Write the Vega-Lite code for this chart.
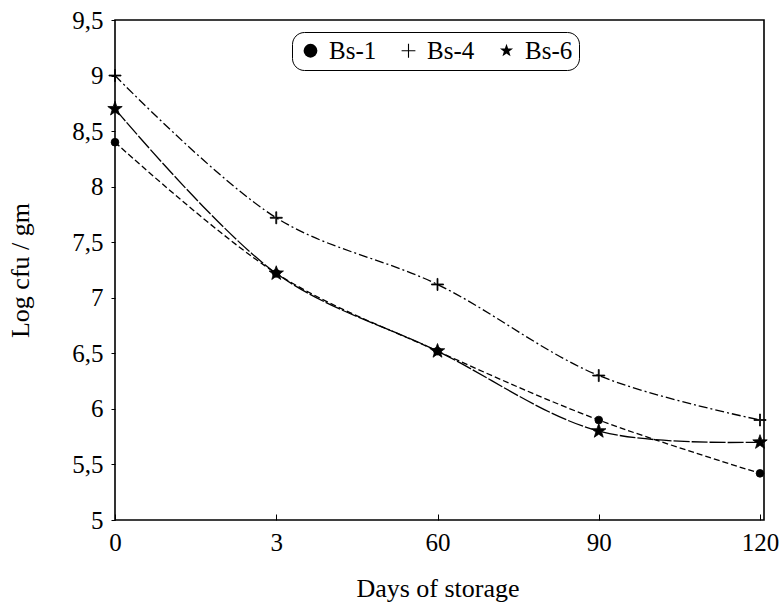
{
  "$schema": "https://vega.github.io/schema/vega-lite/v6.json",
  "width": 649,
  "height": 500,
  "autosize": {"type": "none"},
  "padding": {"left": 115, "top": 20, "right": 17, "bottom": 84},
  "background": "white",
  "config": {
    "font": "Liberation Serif",
    "view": {"stroke": "black", "strokeWidth": 1.6},
    "axis": {"labelFont": "Liberation Serif", "titleFont": "Liberation Serif", "labelColor": "black", "titleColor": "black", "titleFontWeight": "normal", "grid": false}
  },
  "data": {
    "values": [
      {"day": "0", "series": "Bs-1", "v": 8.4},
      {"day": "3", "series": "Bs-1", "v": 7.22},
      {"day": "60", "series": "Bs-1", "v": 6.52},
      {"day": "90", "series": "Bs-1", "v": 5.9},
      {"day": "120", "series": "Bs-1", "v": 5.42},
      {"day": "0", "series": "Bs-4", "v": 9.0},
      {"day": "3", "series": "Bs-4", "v": 7.72},
      {"day": "60", "series": "Bs-4", "v": 7.12},
      {"day": "90", "series": "Bs-4", "v": 6.3},
      {"day": "120", "series": "Bs-4", "v": 5.9},
      {"day": "0", "series": "Bs-6", "v": 8.7},
      {"day": "3", "series": "Bs-6", "v": 7.22},
      {"day": "60", "series": "Bs-6", "v": 6.52},
      {"day": "90", "series": "Bs-6", "v": 5.8},
      {"day": "120", "series": "Bs-6", "v": 5.7}
    ]
  },
  "encoding": {
    "x": {
      "field": "day", "type": "ordinal", "sort": ["0", "3", "60", "90", "120"],
      "scale": {"type": "point", "padding": 0, "range": [0, 645]},
      "axis": {"title": "Days of storage", "labelAngle": 0, "labelFontSize": 25, "titleFontSize": 26, "labelPadding": 16, "titlePadding": 20, "tickSize": -6, "tickColor": "black", "domain": false}
    },
    "y": {
      "field": "v", "type": "quantitative",
      "scale": {"domain": [5, 9.5], "nice": false, "zero": false},
      "axis": {"title": "Log cfu / gm", "values": [5, 5.5, 6, 6.5, 7, 7.5, 8, 8.5, 9, 9.5], "labelExpr": "replace(format(datum.value, '.1~f'), '.', ',')", "labelFontSize": 25, "titleFontSize": 26, "tickSize": 4, "tickColor": "black", "labelPadding": 8, "titlePadding": 38, "domain": false}
    }
  },
  "layer": [
    {
      "mark": {"type": "line", "interpolate": "catmull-rom", "color": "black", "strokeWidth": 1.3},
      "encoding": {
        "strokeDash": {"field": "series", "type": "nominal", "scale": {"range": [[6, 3], [9, 3, 2, 3], [16, 2]]}, "legend": null}
      }
    },
    {
      "mark": {"type": "point", "filled": true, "color": "black", "stroke": "black", "strokeWidth": 0.8, "opacity": 1},
      "encoding": {
        "size": {"field": "series", "type": "ordinal", "scale": {"range": [60, 230, 230]}, "legend": null},
        "shape": {
          "field": "series", "type": "nominal",
          "scale": {"domain": ["Bs-1", "Bs-4", "Bs-6"], "range": ["circle", "M-1,-0.08H-0.08V-1H0.08V-0.08H1V0.08H0.08V1H-0.08V0.08H-1Z", "M0,-1L0.235,-0.324L0.951,-0.309L0.38,0.124L0.588,0.809L0,0.4L-0.588,0.809L-0.38,0.124L-0.951,-0.309L-0.235,-0.324Z"]},
          "legend": {
            "title": null, "orient": "none", "direction": "horizontal",
            "legendX": 177, "legendY": 12,
            "strokeColor": "black", "cornerRadius": 12, "padding": 6,
            "labelFontSize": 25, "labelFont": "Liberation Serif", "labelColor": "black",
            "symbolFillColor": "black", "symbolStrokeColor": "black", "symbolStrokeWidth": 0.8,
            "symbolSize": 190, "columnPadding": 19, "labelOffset": 6,
            "encode": {"symbols": {"update": {"stroke": {"value": "black"}, "strokeWidth": {"value": 0.8}, "fill": {"value": "black"}}}}
          }
        }
      }
    }
  ]
}
